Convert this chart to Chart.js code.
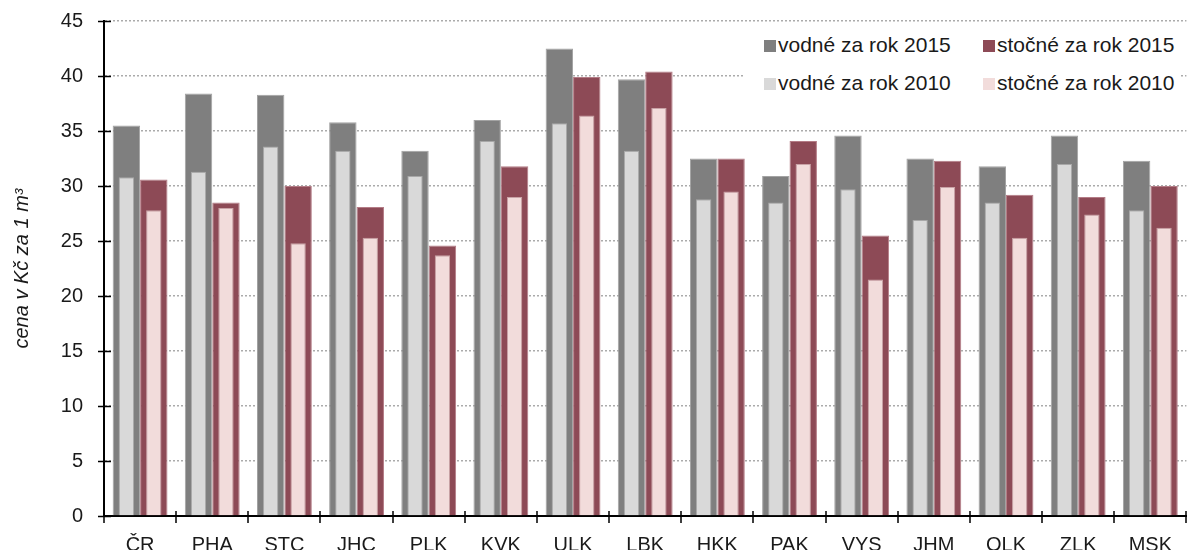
<!DOCTYPE html>
<html>
<head>
<meta charset="utf-8">
<script src="https://cdn.jsdelivr.net/npm/chart.js@4/dist/chart.umd.min.js"></script>
<style>
    body { margin: 0; background: #fff; }
    #wrap { position: relative; width: 1189px; height: 550px; }
    #legend {
        position: absolute; left: 745px; top: 30px; width: 435px; height: 70px;
        background: #fff; font-family: "Liberation Sans", Arial, sans-serif; font-size: 21px; color: #1a1a1a;
    }
    .item { position: absolute; white-space: nowrap; line-height: 21px; }
    .box { position: absolute; width: 12px; height: 12px; }
</style>
</head>
<body>
<div id="wrap">
    <canvas id="chart"></canvas>
    <div id="legend"></div>
</div>
<script>
const regions = ['ČR', 'PHA', 'STC', 'JHC', 'PLK', 'KVK', 'ULK', 'LBK', 'HKK', 'PAK', 'VYS', 'JHM', 'OLK', 'ZLK', 'MSK'];
const water2015 = [35.5, 38.4, 38.3, 35.8, 33.2, 36.0, 42.5, 39.7, 32.5, 30.9, 34.6, 32.5, 31.8, 34.6, 32.3];
const sewage2015 = [30.6, 28.5, 30.0, 28.1, 24.6, 31.8, 39.9, 40.4, 32.5, 34.1, 25.5, 32.3, 29.2, 29.0, 30.0];
const water2010 = [30.8, 31.3, 33.6, 33.2, 30.9, 34.1, 35.7, 33.2, 28.8, 28.5, 29.7, 26.9, 28.5, 32.0, 27.8];
const sewage2010 = [27.8, 28.0, 24.8, 25.3, 23.7, 29.0, 36.4, 37.1, 29.5, 32.0, 21.5, 29.9, 25.3, 27.4, 26.2];
const yTicks = [0, 5, 10, 15, 20, 25, 30, 35, 40, 45];

const FONT = '"Liberation Sans", Arial, sans-serif';

// tick marks crossing both axes
const crossTicks = {
    id: 'crossTicks',
    afterDraw(chart) {
        const ctx = chart.ctx;
        const y = chart.scales.y, x = chart.scales.x;
        ctx.save();
        ctx.strokeStyle = '#000';
        ctx.lineWidth = 1.5;
        ctx.beginPath();
        y.ticks.forEach(t => {
            const py = Math.round(y.getPixelForValue(t.value)) + 0.5;
            ctx.moveTo(y.right - 6, py);
            ctx.lineTo(y.right + 7, py);
        });
        for (let i = 0; i <= regions.length; i++) {
            const px = Math.round(x.getPixelForValue(i - 0.5));
            ctx.moveTo(px, x.top - 5);
            ctx.lineTo(px, x.top + 7);
        }
        ctx.stroke();
        ctx.restore();
    }
};

// same stack name = same slot, so 2010 bars sit inside the 2015 bars
const datasets = [
    { label: 'vodné za rok 2010', data: water2010, stack: 'w', order: 0,
      backgroundColor: '#d9d9d9', borderColor: '#a8a8a8', borderWidth: 1,
      categoryPercentage: 0.76, barPercentage: 0.56 },
    { label: 'stočné za rok 2010', data: sewage2010, stack: 's', order: 1,
      backgroundColor: '#f2dcdb', borderColor: '#c9a3a7', borderWidth: 1,
      categoryPercentage: 0.76, barPercentage: 0.56 },
    { label: 'vodné za rok 2015', data: water2015, stack: 'w', order: 2,
      backgroundColor: '#7f7f7f', borderColor: '#a3a3a3', borderWidth: 1,
      categoryPercentage: 0.76, barPercentage: 1 },
    { label: 'stočné za rok 2015', data: sewage2015, stack: 's', order: 3,
      backgroundColor: '#8d4a56', borderColor: '#b47c86', borderWidth: 1,
      categoryPercentage: 0.76, barPercentage: 1 }
];

new Chart(document.getElementById('chart'), {
    type: 'bar',
    data: { labels: regions, datasets: datasets },
    options: {
        responsive: true,
        maintainAspectRatio: false,
        animation: false,
        layout: { padding: { top: 21, right: 0, left: 0, bottom: 0 } },
        plugins: { legend: { display: false }, tooltip: { enabled: false } },
        scales: {
            x: {
                type: 'category',
                grid: { display: false, drawTicks: false },
                border: { display: true, color: '#000', width: 2 },
                ticks: { color: '#1a1a1a', font: { family: FONT, size: 20 }, padding: 17, maxRotation: 0 },
                afterFit(scale) { scale.height = 34; }
            },
            y: {
                min: 0, max: 45,
                stacked: false,
                afterBuildTicks(scale) { scale.ticks = yTicks.map(v => ({ value: v })); },
                grid: { color: '#ababab', lineWidth: 1.5, drawTicks: true, tickLength: 18, tickColor: 'rgba(0,0,0,0)' },
                border: { display: true, color: '#000', width: 2, dash: [2, 2] },
                ticks: { color: '#1a1a1a', font: { family: FONT, size: 20 }, padding: 3 },
                title: {
                    display: true, text: 'cena v Kč za 1 m³', color: '#1a1a1a',
                    font: { family: FONT, size: 20, style: 'italic' }, padding: { top: 10, bottom: 0 }
                },
                afterFit(scale) { scale.width = 104; }
            }
        }
    },
    plugins: [crossTicks]
});

// legend: 2015 series in the first row, 2010 in the second
const legendOrder = [2, 3, 0, 1];
const legendEl = document.getElementById('legend');
legendOrder.forEach((di, k) => {
    const ds = datasets[di];
    const col = k % 2, row = Math.floor(k / 2);
    const left = col === 0 ? 19 : 238;
    const top = row === 0 ? 4 : 42;
    const box = document.createElement('div');
    box.className = 'box';
    box.style.background = ds.backgroundColor;
    box.style.left = left + 'px';
    box.style.top = (top + 6) + 'px';
    const txt = document.createElement('div');
    txt.className = 'item';
    txt.textContent = ds.label;
    txt.style.left = (left + 14) + 'px';
    txt.style.top = top + 'px';
    legendEl.appendChild(box);
    legendEl.appendChild(txt);
});
</script>
</body>
</html>
